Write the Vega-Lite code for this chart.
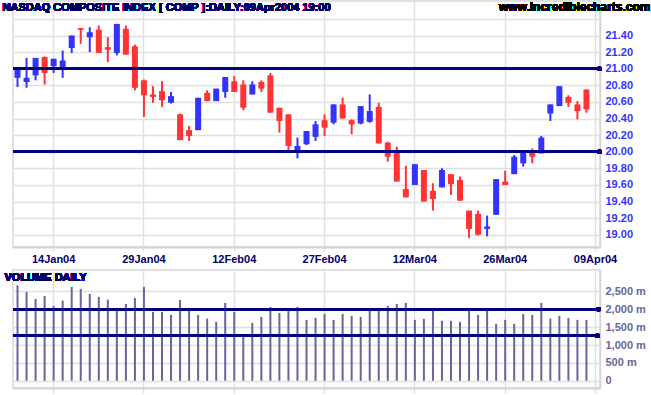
{
  "$schema": "https://vega.github.io/schema/vega-lite/v6.json",
  "autosize": {"type": "pad"},
  "padding": {"left": 1, "top": 0, "right": 0, "bottom": 0},
  "background": "white",
  "bounds": "flush",
  "spacing": 23,
  "config": {
    "font": "Liberation Sans",
    "view": {"stroke": "#d8d8d8", "strokeWidth": 1.5}
  },
  "data": {"values": [
    {"d": "08Jan04", "o": 20.89, "h": 21.01, "l": 20.78, "c": 21.00, "v": 2673},
    {"d": "09Jan04", "o": 20.84, "h": 21.13, "l": 20.77, "c": 20.89, "v": 2486},
    {"d": "12Jan04", "o": 20.92, "h": 21.13, "l": 20.86, "c": 21.13, "v": 2290},
    {"d": "13Jan04", "o": 21.14, "h": 21.15, "l": 20.81, "c": 20.95, "v": 2374},
    {"d": "14Jan04", "o": 21.03, "h": 21.12, "l": 20.95, "c": 21.12, "v": 2095},
    {"d": "15Jan04", "o": 21.00, "h": 21.22, "l": 20.89, "c": 21.10, "v": 2244},
    {"d": "16Jan04", "o": 21.25, "h": 21.40, "l": 21.19, "c": 21.40, "v": 2626},
    {"d": "20Jan04", "o": 21.49, "h": 21.49, "l": 21.30, "c": 21.47, "v": 2570},
    {"d": "21Jan04", "o": 21.38, "h": 21.50, "l": 21.20, "c": 21.44, "v": 2430},
    {"d": "22Jan04", "o": 21.47, "h": 21.52, "l": 21.19, "c": 21.19, "v": 2346},
    {"d": "23Jan04", "o": 21.26, "h": 21.38, "l": 21.08, "c": 21.23, "v": 2272},
    {"d": "26Jan04", "o": 21.19, "h": 21.54, "l": 21.16, "c": 21.54, "v": 1965},
    {"d": "27Jan04", "o": 21.48, "h": 21.52, "l": 21.17, "c": 21.17, "v": 2151},
    {"d": "28Jan04", "o": 21.27, "h": 21.29, "l": 20.74, "c": 20.77, "v": 2318},
    {"d": "29Jan04", "o": 20.86, "h": 20.87, "l": 20.42, "c": 20.68, "v": 2626},
    {"d": "30Jan04", "o": 20.69, "h": 20.79, "l": 20.59, "c": 20.66, "v": 1927},
    {"d": "02Feb04", "o": 20.73, "h": 20.85, "l": 20.54, "c": 20.62, "v": 1927},
    {"d": "03Feb04", "o": 20.59, "h": 20.72, "l": 20.58, "c": 20.67, "v": 1843},
    {"d": "04Feb04", "o": 20.45, "h": 20.46, "l": 20.14, "c": 20.14, "v": 2262},
    {"d": "05Feb04", "o": 20.26, "h": 20.31, "l": 20.13, "c": 20.19, "v": 1983},
    {"d": "06Feb04", "o": 20.26, "h": 20.65, "l": 20.26, "c": 20.65, "v": 1843},
    {"d": "09Feb04", "o": 20.71, "h": 20.74, "l": 20.61, "c": 20.61, "v": 1741},
    {"d": "10Feb04", "o": 20.61, "h": 20.76, "l": 20.61, "c": 20.76, "v": 1648},
    {"d": "11Feb04", "o": 20.72, "h": 20.90, "l": 20.65, "c": 20.90, "v": 2179},
    {"d": "12Feb04", "o": 20.85, "h": 20.91, "l": 20.72, "c": 20.72, "v": 1927},
    {"d": "13Feb04", "o": 20.81, "h": 20.86, "l": 20.50, "c": 20.53, "v": 1303},
    {"d": "17Feb04", "o": 20.69, "h": 20.85, "l": 20.69, "c": 20.81, "v": 1620},
    {"d": "18Feb04", "o": 20.84, "h": 20.86, "l": 20.72, "c": 20.76, "v": 1787},
    {"d": "19Feb04", "o": 20.92, "h": 20.95, "l": 20.47, "c": 20.47, "v": 2067},
    {"d": "20Feb04", "o": 20.53, "h": 20.53, "l": 20.23, "c": 20.37, "v": 1899},
    {"d": "23Feb04", "o": 20.45, "h": 20.45, "l": 20.00, "c": 20.07, "v": 1974},
    {"d": "24Feb04", "o": 20.01, "h": 20.17, "l": 19.92, "c": 20.07, "v": 2067},
    {"d": "25Feb04", "o": 20.09, "h": 20.25, "l": 20.08, "c": 20.25, "v": 1704},
    {"d": "26Feb04", "o": 20.18, "h": 20.37, "l": 20.13, "c": 20.33, "v": 1760},
    {"d": "27Feb04", "o": 20.38, "h": 20.45, "l": 20.19, "c": 20.29, "v": 1872},
    {"d": "01Mar04", "o": 20.35, "h": 20.57, "l": 20.33, "c": 20.57, "v": 1704},
    {"d": "02Mar04", "o": 20.57, "h": 20.65, "l": 20.40, "c": 20.40, "v": 1872},
    {"d": "03Mar04", "o": 20.38, "h": 20.39, "l": 20.21, "c": 20.33, "v": 1816},
    {"d": "04Mar04", "o": 20.34, "h": 20.55, "l": 20.33, "c": 20.55, "v": 1787},
    {"d": "05Mar04", "o": 20.36, "h": 20.69, "l": 20.35, "c": 20.49, "v": 2039},
    {"d": "08Mar04", "o": 20.54, "h": 20.59, "l": 20.10, "c": 20.10, "v": 2039},
    {"d": "09Mar04", "o": 20.11, "h": 20.12, "l": 19.88, "c": 19.94, "v": 2095},
    {"d": "10Mar04", "o": 19.99, "h": 20.06, "l": 19.64, "c": 19.64, "v": 2151},
    {"d": "11Mar04", "o": 19.55, "h": 19.83, "l": 19.45, "c": 19.45, "v": 2179},
    {"d": "12Mar04", "o": 19.60, "h": 19.85, "l": 19.60, "c": 19.85, "v": 1704},
    {"d": "15Mar04", "o": 19.78, "h": 19.78, "l": 19.40, "c": 19.40, "v": 1732},
    {"d": "16Mar04", "o": 19.53, "h": 19.62, "l": 19.29, "c": 19.43, "v": 1983},
    {"d": "17Mar04", "o": 19.57, "h": 19.80, "l": 19.57, "c": 19.78, "v": 1676},
    {"d": "18Mar04", "o": 19.73, "h": 19.73, "l": 19.48, "c": 19.61, "v": 1676},
    {"d": "19Mar04", "o": 19.66, "h": 19.70, "l": 19.41, "c": 19.41, "v": 1648},
    {"d": "22Mar04", "o": 19.29, "h": 19.29, "l": 18.96, "c": 19.07, "v": 1983},
    {"d": "23Mar04", "o": 19.25, "h": 19.29, "l": 18.99, "c": 19.00, "v": 1843},
    {"d": "24Mar04", "o": 19.07, "h": 19.23, "l": 18.98, "c": 19.10, "v": 1983},
    {"d": "25Mar04", "o": 19.24, "h": 19.67, "l": 19.24, "c": 19.67, "v": 1592},
    {"d": "26Mar04", "o": 19.64, "h": 19.77, "l": 19.60, "c": 19.60, "v": 1704},
    {"d": "29Mar04", "o": 19.73, "h": 19.96, "l": 19.73, "c": 19.94, "v": 1592},
    {"d": "30Mar04", "o": 19.86, "h": 20.01, "l": 19.82, "c": 20.01, "v": 1872},
    {"d": "31Mar04", "o": 20.02, "h": 20.04, "l": 19.86, "c": 19.94, "v": 1843},
    {"d": "01Apr04", "o": 19.98, "h": 20.19, "l": 19.98, "c": 20.17, "v": 2179},
    {"d": "02Apr04", "o": 20.46, "h": 20.57, "l": 20.37, "c": 20.57, "v": 1741},
    {"d": "05Apr04", "o": 20.55, "h": 20.79, "l": 20.55, "c": 20.79, "v": 1816},
    {"d": "06Apr04", "o": 20.66, "h": 20.68, "l": 20.54, "c": 20.59, "v": 1760},
    {"d": "07Apr04", "o": 20.57, "h": 20.61, "l": 20.39, "c": 20.49, "v": 1704},
    {"d": "08Apr04", "o": 20.75, "h": 20.75, "l": 20.47, "c": 20.51, "v": 1704}
  ]},
  "vconcat": [
    {
      "width": 587,
      "height": 246,
      "resolve": {"axis": {"x": "independent", "y": "independent"}},
      "layer": [
        {
          "mark": {"type": "rule", "strokeWidth": 2},
          "encoding": {
            "x": {
              "field": "d", "type": "ordinal", "bandPosition": 0.5,
              "scale": {"type": "band", "paddingInner": 0, "paddingOuter": 0, "domain": ["08Jan04","09Jan04","12Jan04","13Jan04","14Jan04","15Jan04","16Jan04","20Jan04","21Jan04","22Jan04","23Jan04","26Jan04","27Jan04","28Jan04","29Jan04","30Jan04","02Feb04","03Feb04","04Feb04","05Feb04","06Feb04","09Feb04","10Feb04","11Feb04","12Feb04","13Feb04","17Feb04","18Feb04","19Feb04","20Feb04","23Feb04","24Feb04","25Feb04","26Feb04","27Feb04","01Mar04","02Mar04","03Mar04","04Mar04","05Mar04","08Mar04","09Mar04","10Mar04","11Mar04","12Mar04","15Mar04","16Mar04","17Mar04","18Mar04","19Mar04","22Mar04","23Mar04","24Mar04","25Mar04","26Mar04","29Mar04","30Mar04","31Mar04","01Apr04","02Apr04","05Apr04","06Apr04","07Apr04","08Apr04","09Apr04"]},
              "axis": {"orient": "bottom", "title": null, "values": ["14Jan04","29Jan04","12Feb04","27Feb04","12Mar04","26Mar04","09Apr04"], "bandPosition": 0.5, "grid": true, "gridColor": "#e0e0e0", "gridWidth": 1.5, "domainColor": "#d4d4d4", "domainWidth": 2, "tickColor": "#e0e0e0", "tickWidth": 1.5, "tickSize": 4, "labelPadding": 2, "labelAngle": 0, "labelFontSize": 11, "labelFontWeight": "bold", "labelColor": "#000066", "labelOverlap": false}
            },
            "y": {"field": "l", "type": "quantitative", "scale": {"domain": [18.852, 21.816], "nice": false, "zero": false},
              "axis": {"orient": "right", "title": null, "values": [19.0, 19.2, 19.4, 19.6, 19.8, 20.0, 20.2, 20.4, 20.6, 20.8, 21.0, 21.2, 21.4, 21.6], "labelExpr": "datum.value > 21.5 ? '' : format(datum.value, '.2f')", "labelOverlap": false, "grid": true, "gridColor": "#e0e0e0", "gridWidth": 1.5, "domainColor": "#d4d4d4", "domainWidth": 1.5, "ticks": false, "labelPadding": 5, "labelFontSize": 11, "labelFontWeight": "bold", "labelColor": "#3333ff"}},
            "y2": {"field": "h"},
            "color": {"condition": {"test": "datum.c >= datum.o", "value": "#3333ff"}, "value": "#ff3333"}
          }
        },
        {
          "mark": {"type": "rule", "strokeWidth": 6},
          "encoding": {
            "x": {"field": "d", "type": "ordinal", "bandPosition": 0.5, "axis": null},
            "y": {"field": "o", "type": "quantitative", "axis": null},
            "y2": {"field": "c"},
            "color": {"condition": {"test": "datum.c >= datum.o", "value": "#3333ff"}, "value": "#ff3333"}
          }
        },
        {
          "mark": {"type": "rule", "color": "#000080", "strokeWidth": 2.5},
          "encoding": {"y": {"datum": 21.0, "type": "quantitative", "axis": null}}
        },
        {
          "mark": {"type": "rule", "color": "#000080", "strokeWidth": 2.5},
          "encoding": {"y": {"datum": 20.0, "type": "quantitative", "axis": null}}
        },
        {
          "mark": {"type": "point", "filled": true, "color": "#000080", "size": 20, "opacity": 1, "xOffset": 4},
          "encoding": {"x": {"datum": "09Apr04", "type": "ordinal", "axis": null}, "y": {"datum": 21.0, "type": "quantitative", "axis": null}}
        },
        {
          "mark": {"type": "point", "filled": true, "color": "#000080", "size": 20, "opacity": 1, "xOffset": 4},
          "encoding": {"x": {"datum": "09Apr04", "type": "ordinal", "axis": null}, "y": {"datum": 20.0, "type": "quantitative", "axis": null}}
        },
        {
          "mark": {"type": "text", "text": "www.incrediblecharts.com", "align": "right", "baseline": "alphabetic", "dx": 55, "font": "Liberation Sans", "fontSize": 12, "fontWeight": "bold", "color": "#000000"},
          "encoding": {"x": {"datum": "09Apr04", "type": "ordinal", "axis": null}, "y": {"datum": 21.69, "type": "quantitative", "axis": null}}
        },
        {
          "mark": {"type": "text", "text": "NASDAQ COMPOSITE INDEX [ COMP ]:DAILY:09Apr2004 19:00", "align": "left", "baseline": "alphabetic", "dx": -15, "font": "Liberation Sans", "fontSize": 11, "fontWeight": "bold", "color": "#000066"},
          "encoding": {"x": {"datum": "08Jan04", "type": "ordinal", "axis": null}, "y": {"datum": 21.69, "type": "quantitative", "axis": null}}
        }
      ]
    },
    {
      "width": 587,
      "height": 118,
      "resolve": {"axis": {"x": "independent", "y": "independent"}},
      "layer": [
        {
          "mark": {"type": "rule", "strokeWidth": 2, "color": "#666699"},
          "encoding": {
            "x": {
              "field": "d", "type": "ordinal", "bandPosition": 0.5,
              "scale": {"type": "band", "paddingInner": 0, "paddingOuter": 0, "domain": ["08Jan04","09Jan04","12Jan04","13Jan04","14Jan04","15Jan04","16Jan04","20Jan04","21Jan04","22Jan04","23Jan04","26Jan04","27Jan04","28Jan04","29Jan04","30Jan04","02Feb04","03Feb04","04Feb04","05Feb04","06Feb04","09Feb04","10Feb04","11Feb04","12Feb04","13Feb04","17Feb04","18Feb04","19Feb04","20Feb04","23Feb04","24Feb04","25Feb04","26Feb04","27Feb04","01Mar04","02Mar04","03Mar04","04Mar04","05Mar04","08Mar04","09Mar04","10Mar04","11Mar04","12Mar04","15Mar04","16Mar04","17Mar04","18Mar04","19Mar04","22Mar04","23Mar04","24Mar04","25Mar04","26Mar04","29Mar04","30Mar04","31Mar04","01Apr04","02Apr04","05Apr04","06Apr04","07Apr04","08Apr04","09Apr04"]},
              "axis": {"title": null, "values": ["14Jan04","29Jan04","12Feb04","27Feb04","12Mar04","26Mar04","09Apr04"], "bandPosition": 0.5, "grid": true, "gridColor": "#e0e0e0", "gridWidth": 1.5, "domainColor": "#d4d4d4", "domainWidth": 2, "tickColor": "#e0e0e0", "tickWidth": 1.5, "tickSize": 5, "labels": false}
            },
            "y": {"field": "v", "type": "quantitative", "scale": {"domain": [-204, 3100], "nice": false, "zero": false},
              "axis": {"orient": "right", "title": null, "values": [0, 500, 1000, 1500, 2000, 2500], "labelExpr": "datum.value == 0 ? '0' : format(datum.value, ',') + ' m'", "labelOverlap": false, "grid": true, "gridColor": "#e0e0e0", "gridWidth": 1.5, "domainColor": "#d4d4d4", "domainWidth": 1.5, "ticks": false, "labelPadding": 5, "labelFontSize": 11, "labelFontWeight": "bold", "labelColor": "#666699"}},
            "y2": {"datum": 0}
          }
        },
        {
          "mark": {"type": "rule", "color": "#000080", "strokeWidth": 2.5},
          "encoding": {"y": {"datum": 2000, "type": "quantitative", "axis": null}}
        },
        {
          "mark": {"type": "rule", "color": "#000080", "strokeWidth": 2.5},
          "encoding": {"y": {"datum": 1260, "type": "quantitative", "axis": null}}
        },
        {
          "mark": {"type": "point", "filled": true, "color": "#000080", "size": 20, "opacity": 1, "xOffset": 3},
          "encoding": {"x": {"datum": "09Apr04", "type": "ordinal", "axis": null}, "y": {"datum": 2000, "type": "quantitative", "axis": null}}
        },
        {
          "mark": {"type": "point", "filled": true, "color": "#000080", "size": 20, "opacity": 1, "xOffset": 2},
          "encoding": {"x": {"datum": "09Apr04", "type": "ordinal", "axis": null}, "y": {"datum": 1260, "type": "quantitative", "axis": null}}
        },
        {
          "mark": {"type": "text", "text": "VOLUME DAILY", "align": "left", "baseline": "alphabetic", "dx": -13, "font": "Liberation Sans", "fontSize": 11, "fontWeight": "bold", "color": "#000066"},
          "encoding": {"x": {"datum": "08Jan04", "type": "ordinal", "axis": null}, "y": {"datum": 2792, "type": "quantitative", "axis": null}}
        }
      ]
    }
  ]
}
